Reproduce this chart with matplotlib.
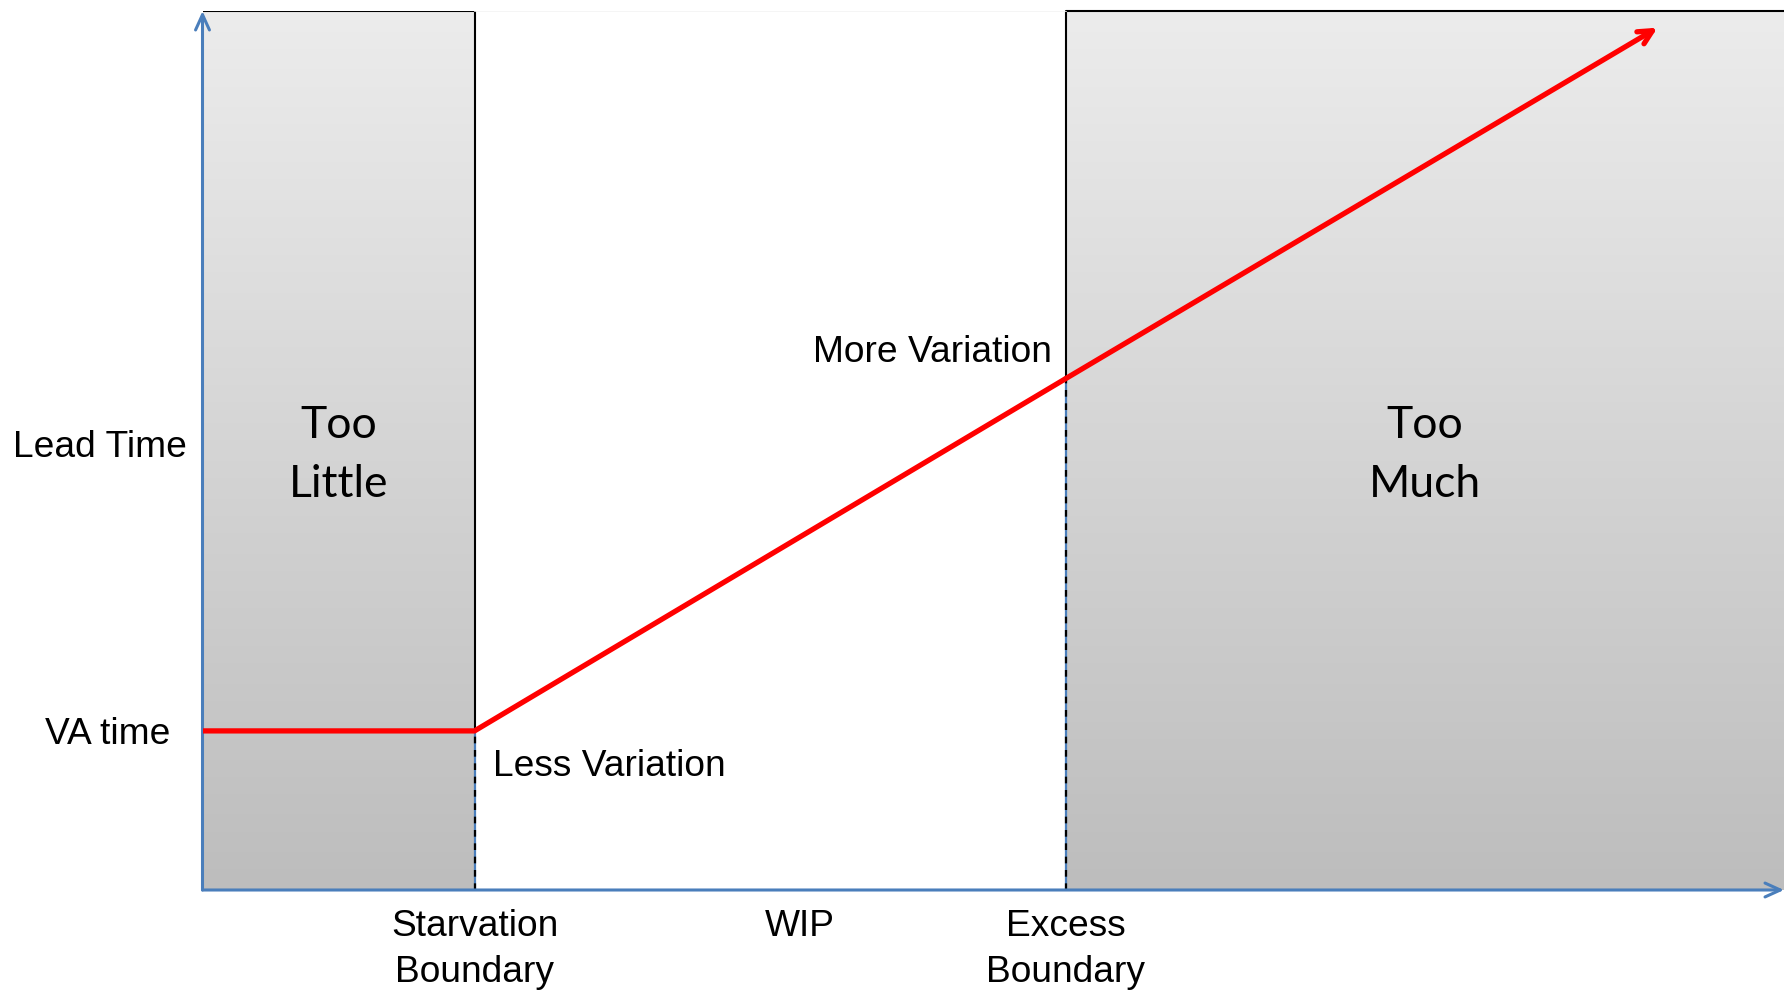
import matplotlib.pyplot as plt
import numpy as np
from matplotlib.colors import LinearSegmentedColormap

# WIP (x) and lead time (y) in chart units, 0..100 on both axes
starvation_wip = 17.2
excess_wip = 54.6
va_time = 18.1
curve_wip = [0, starvation_wip, excess_wip, 92.0]
curve_lead = [va_time, va_time, 58.2, 98.1]

axis_blue = "#4a7ebb"
sans = ["Liberation Sans", "DejaVu Sans"]

fig = plt.figure(figsize=(17.84, 9.9), dpi=100)
ax = fig.add_axes([202.5 / 1784, 100 / 990, 1581.5 / 1784, 879 / 990])
ax.set_xlim(0, 100)
ax.set_ylim(0, 100)
ax.axis("off")

# gray gradient zones
grad = np.linspace(1, 0, 256).reshape(-1, 1)
cmap = LinearSegmentedColormap.from_list("g", ["#bdbdbd", "#ececec"])
for x0, x1 in [(0, starvation_wip), (excess_wip, 100)]:
    ax.imshow(grad, extent=(x0, x1, 0, 100), cmap=cmap, aspect="auto",
              origin="upper", zorder=1, vmin=0, vmax=1)

# zone borders
ax.plot([0, starvation_wip, starvation_wip], [100, 100, va_time], color="black", lw=1.5, zorder=2)
ax.plot([excess_wip, excess_wip, 100.5], [curve_lead[2], 100, 100], color="black", lw=1.5, zorder=2, clip_on=False)
ax.plot([starvation_wip, excess_wip], [100, 100], color="#f3f3f3", lw=1.2, zorder=2)

# dashed boundaries below the curve
for xb, ytop in [(starvation_wip, va_time), (excess_wip, curve_lead[2])]:
    ax.plot([xb, xb], [0, ytop], color=axis_blue, lw=1.6, zorder=3)
    ax.plot([xb, xb], [0, ytop], color="black", lw=1.6, ls=(0, (3, 3)), zorder=3)

# axes with open arrowheads
arrow_ax = dict(arrowstyle="->,head_length=1.1,head_width=0.5", color=axis_blue,
                lw=2.2, shrinkA=0, shrinkB=0)
ax.annotate("", xy=(0, 100), xytext=(0, 0), annotation_clip=False, arrowprops=arrow_ax, zorder=4)
ax.annotate("", xy=(100, 0), xytext=(0, 0), annotation_clip=False, arrowprops=arrow_ax, zorder=4)

# lead time curve
ax.plot(curve_wip[:3], curve_lead[:3], color="red", lw=3.8, zorder=5,
        solid_joinstyle="miter", solid_capstyle="butt")
ax.annotate("", xy=(curve_wip[3], curve_lead[3]), xytext=(curve_wip[2], curve_lead[2]),
            arrowprops=dict(arrowstyle="->,head_length=1.0,head_width=0.5", color="red",
                            lw=3.8, shrinkA=0, shrinkB=0), zorder=5)

# labels
kw = dict(family=sans, fontsize=26.7, color="black", clip_on=False, zorder=6)
ax.text(-6.5, 50.3, "Lead Time", ha="center", va="center", **kw)
ax.text(-6.0, va_time - 0.4, "VA time", ha="center", va="center", **kw)
ax.text(18.4, 14.0, "Less Variation", ha="left", va="center", **kw)
ax.text(53.7, 61.2, "More Variation", ha="right", va="center", **kw)
ax.text(starvation_wip, -6.8, "Starvation\nBoundary", ha="center", va="center", linespacing=1.42, **kw)
ax.text(37.8, -4.2, "WIP", ha="center", va="center", **kw)
ax.text(excess_wip, -6.8, "Excess\nBoundary", ha="center", va="center", linespacing=1.42, **kw)

kw2 = dict(family=["Lato", "DejaVu Sans"], fontsize=32, color="black", zorder=6,
           ha="center", va="center", linespacing=1.55)
ax.text(starvation_wip / 2, 49.5, "Too\nLittle", **kw2)
ax.text((excess_wip + 100) / 2, 49.5, "Too\nMuch", **kw2)

fig.savefig("out.png", dpi=100)
